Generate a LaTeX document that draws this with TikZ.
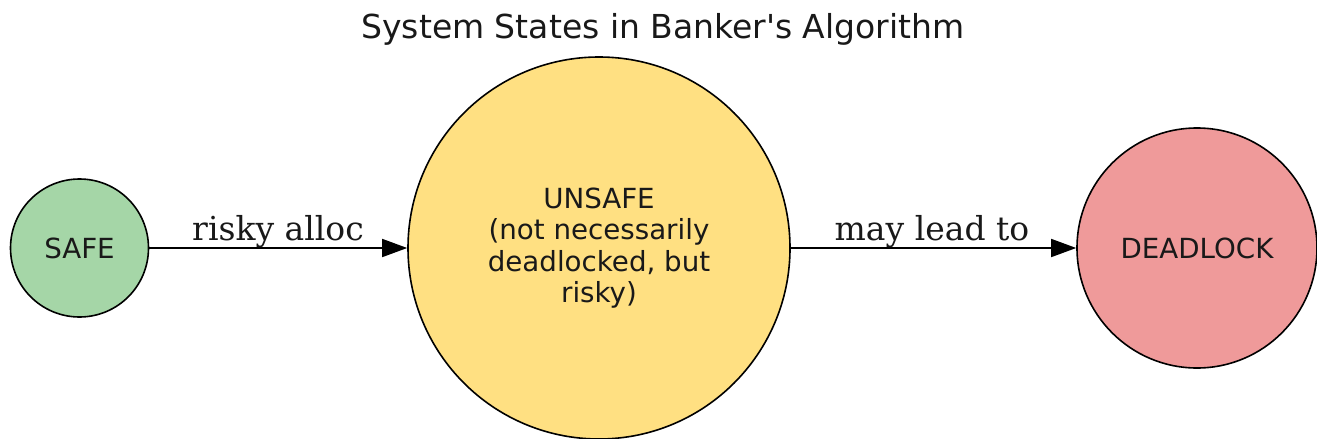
\documentclass[tikz,border=0pt]{standalone}
\usepackage{fontspec}
\setmainfont{DejaVu Sans}
\newfontfamily\edgefont{DejaVu Serif}
\usetikzlibrary{arrows.meta}
\definecolor{safefill}{HTML}{A5D6A7}
\definecolor{unsafefill}{HTML}{FFE082}
\definecolor{deadfill}{HTML}{EF9A9A}
\tikzset{
  state/.style={circle, draw=black, line width=1.6pt, inner sep=0pt,
    font=\fontsize{27.7}{31.5}\selectfont, align=center, text=black!90},
  conn/.style={line width=1.6pt, -{Triangle[length=25pt,width=18pt]}},
  elabel/.style={font=\edgefont\fontsize{33}{38}\selectfont, anchor=base, text=black!90},
}
\begin{document}
\begin{tikzpicture}[x=1pt,y=-1pt]
\useasboundingbox (0,0) rectangle (1317,439);
\node[anchor=base, font=\fontsize{33}{38}\selectfont, text=black!90] (title) at (663,38) {System States in Banker\textquotesingle s Algorithm};
\node[state, fill=safefill, minimum size=138pt] (safe) at (79.5,248) {SAFE};
\node[state, fill=unsafefill, minimum size=382pt] (unsafe) at (599,248) {UNSAFE\\(not necessarily\\deadlocked, but\\risky)};
\node[state, fill=deadfill, minimum size=240pt] (dead) at (1197,248) {DEADLOCK};
\draw[conn] (safe) -- (unsafe);
\draw[conn] (unsafe) -- (dead);
\node[elabel] (l1) at (278,240) {risky alloc};
\node[elabel] (l2) at (932,240) {may lead to};
\end{tikzpicture}
\end{document}
